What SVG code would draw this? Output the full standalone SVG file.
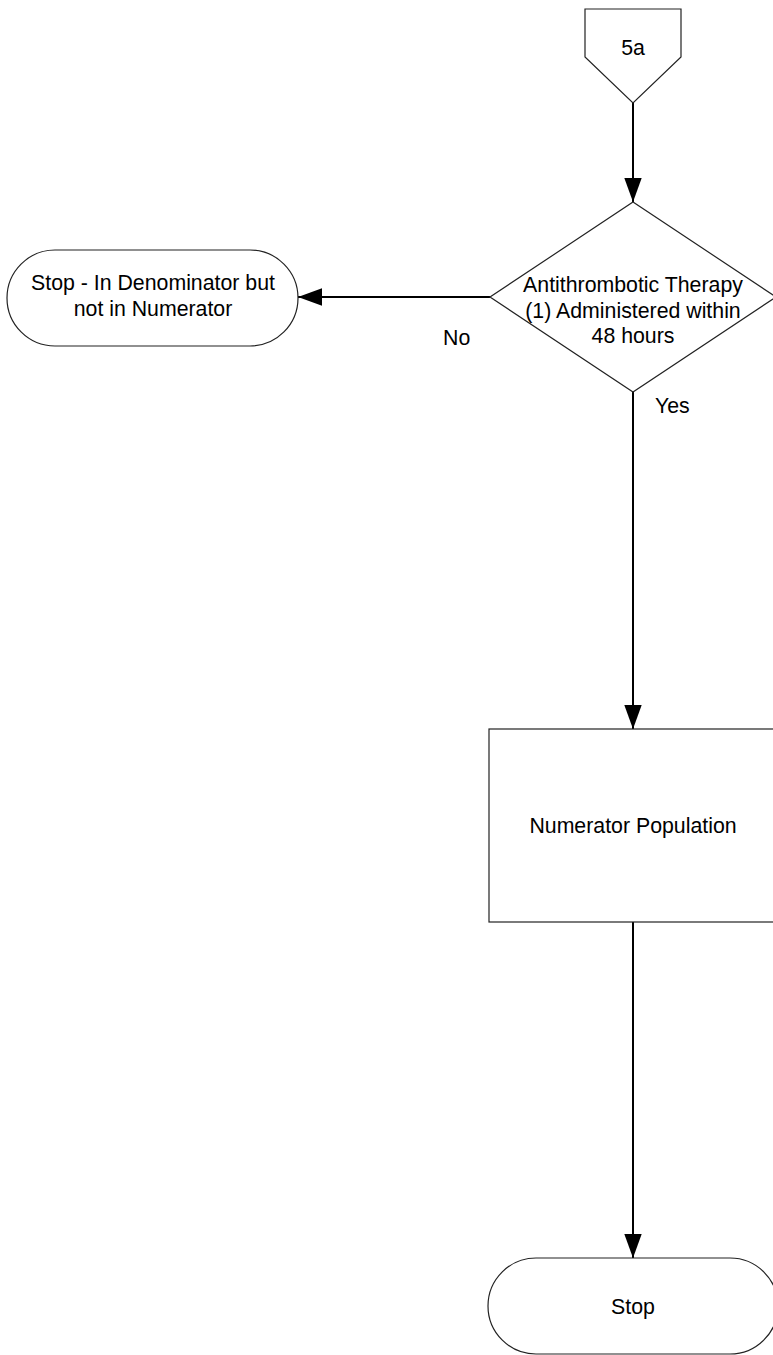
<svg xmlns="http://www.w3.org/2000/svg" width="773" height="1355" viewBox="0 0 773 1355">
<style>
.shape{fill:#fff;stroke:#222;stroke-width:1.2}
.conn{fill:none;stroke:#000;stroke-width:2}
text{font-family:"Liberation Sans",Arial,sans-serif;font-size:21.3px;fill:#000;text-anchor:middle}
.lbl{text-anchor:start}
</style>
<defs>
<marker id="arr" markerUnits="userSpaceOnUse" markerWidth="26" markerHeight="20" viewBox="0 0 26 20" refX="25" refY="10" orient="auto">
<path d="M1,1.3 L25,10 L1,18.7 Z" fill="#000"/>
</marker>
</defs>
<rect width="773" height="1355" fill="#fff"/>
<g id="connectors">
<path class="conn" d="M633,103 L633,202" marker-end="url(#arr)"/>
<path class="conn" d="M490,297 L298,297" marker-end="url(#arr)"/>
<path class="conn" d="M633,392 L633,729" marker-end="url(#arr)"/>
<path class="conn" d="M633,922 L633,1258" marker-end="url(#arr)"/>
<text class="lbl" x="443" y="345">No</text>
<text class="lbl" x="655" y="413">Yes</text>
</g>
<g id="offpage5a">
<path class="shape" d="M585,9 L681,9 L681,57 L633,103 L585,57 Z"/>
<text x="633" y="55">5a</text>
</g>
<g id="decision">
<path class="shape" d="M633,202 L776,297 L633,392 L490,297 Z"/>
<text x="633" y="292">Antithrombotic Therapy</text>
<text x="633" y="318">(1) Administered within</text>
<text x="633" y="343">48 hours</text>
</g>
<g id="stopDenom">
<rect class="shape" x="7" y="250" width="291" height="96" rx="48" ry="48"/>
<text x="153" y="290">Stop - In Denominator but</text>
<text x="153" y="316">not in Numerator</text>
</g>
<g id="numerator">
<rect class="shape" x="489" y="729" width="288" height="193"/>
<text x="633" y="833">Numerator Population</text>
</g>
<g id="stop">
<rect class="shape" x="488" y="1258" width="290" height="96" rx="48" ry="48"/>
<text x="633" y="1314">Stop</text>
</g>
</svg>
